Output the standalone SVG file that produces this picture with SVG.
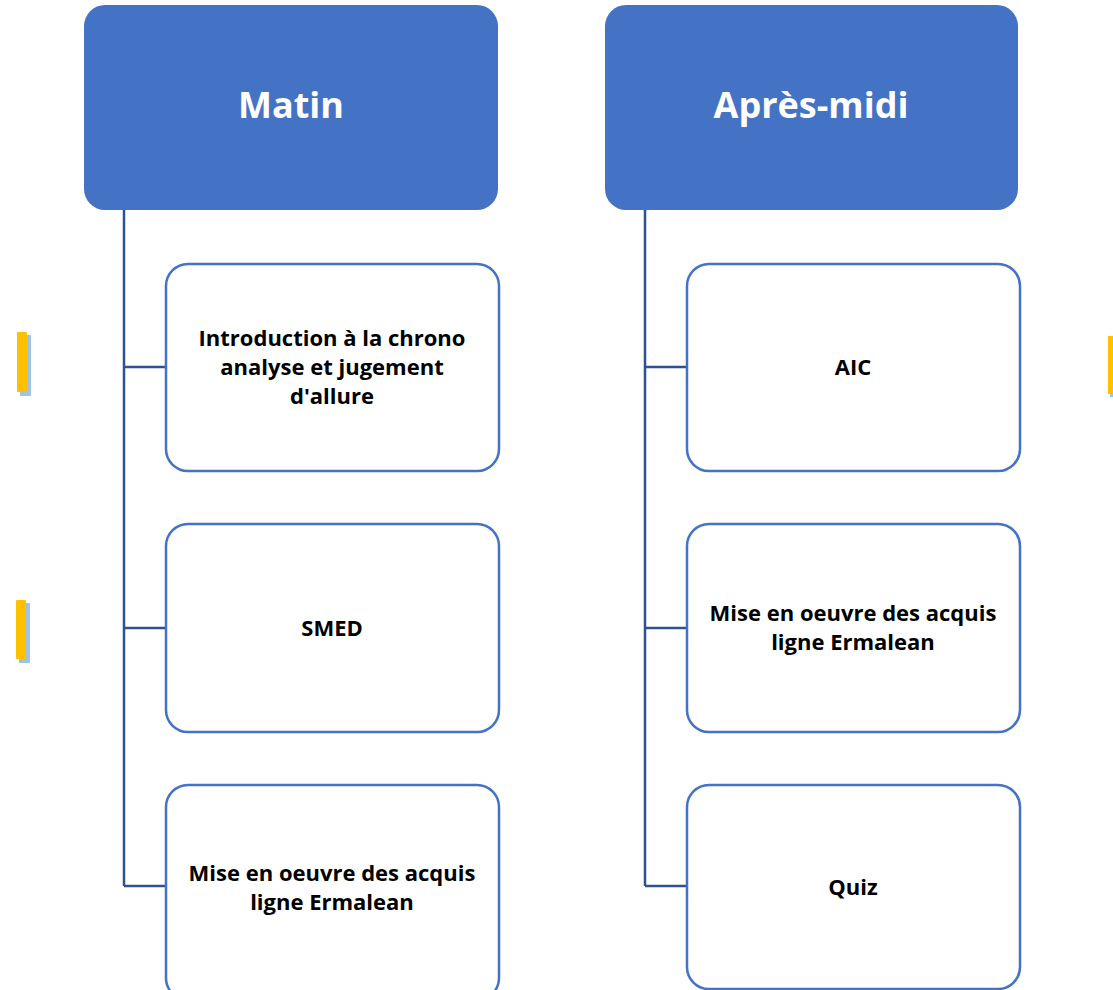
<svg xmlns="http://www.w3.org/2000/svg" width="1113" height="990" viewBox="0 0 1113 990">
<style>
.hdr{fill:#4472C4;}
.hdrt{fill:#fff;font-family:"Open Sans","Liberation Sans",sans-serif;font-weight:bold;font-size:36px;text-anchor:middle;}
.box{fill:#fff;stroke:#4472C4;stroke-width:2.5;}
.t{fill:#000;font-family:"Open Sans","Liberation Sans",sans-serif;font-weight:bold;font-size:22px;text-anchor:middle;}
.con{fill:none;stroke:#2F528F;stroke-width:2.5;}
.bar{fill:#FFC000;}
.sh{fill:#9DC3E6;}
</style>
<g id="decor">
<rect class="sh" x="20" y="335" width="11" height="61" rx="1"/>
<rect class="bar" x="17" y="332" width="10" height="60" rx="1"/>
<rect class="sh" x="19" y="603" width="11" height="60" rx="1"/>
<rect class="bar" x="16" y="600" width="10" height="59" rx="1"/>
<rect class="sh" x="1110" y="339" width="5" height="58"/>
<rect class="bar" x="1108" y="336" width="6" height="58"/>
</g>
<g id="connectors">
<path class="con" d="M124,210 V886 M124,367 H165 M124,628 H165 M124,886 H165"/>
<path class="con" d="M645,210 V886 M645,367 H686 M645,628 H686 M645,886 H686"/>
</g>
<g id="matin">
<rect class="hdr" x="84" y="5" width="414" height="205" rx="21"/>
<text class="hdrt" x="291" y="118">Matin</text>
</g>
<g id="apresmidi">
<rect class="hdr" x="605" y="5" width="413" height="205" rx="21"/>
<text class="hdrt" x="811" y="118">Après-midi</text>
</g>
<g id="intro">
<rect class="box" x="166" y="264" width="333" height="207" rx="22"/>
<text class="t" x="332" y="346">Introduction à la chrono</text>
<text class="t" x="332" y="375">analyse et jugement</text>
<text class="t" x="332" y="404">d'allure</text>
</g>
<g id="smed">
<rect class="box" x="166" y="524" width="333" height="208" rx="22"/>
<text class="t" x="332" y="636">SMED</text>
</g>
<g id="mise1">
<rect class="box" x="166" y="785" width="333" height="215" rx="22"/>
<text class="t" x="332" y="881">Mise en oeuvre des acquis</text>
<text class="t" x="332" y="910">ligne Ermalean</text>
</g>
<g id="aic">
<rect class="box" x="687" y="264" width="333" height="207" rx="22"/>
<text class="t" x="853" y="375">AIC</text>
</g>
<g id="mise2">
<rect class="box" x="687" y="524" width="333" height="208" rx="22"/>
<text class="t" x="853" y="621">Mise en oeuvre des acquis</text>
<text class="t" x="853" y="650">ligne Ermalean</text>
</g>
<g id="quiz">
<rect class="box" x="687" y="785" width="333" height="204" rx="22"/>
<text class="t" x="853" y="895">Quiz</text>
</g>
</svg>
